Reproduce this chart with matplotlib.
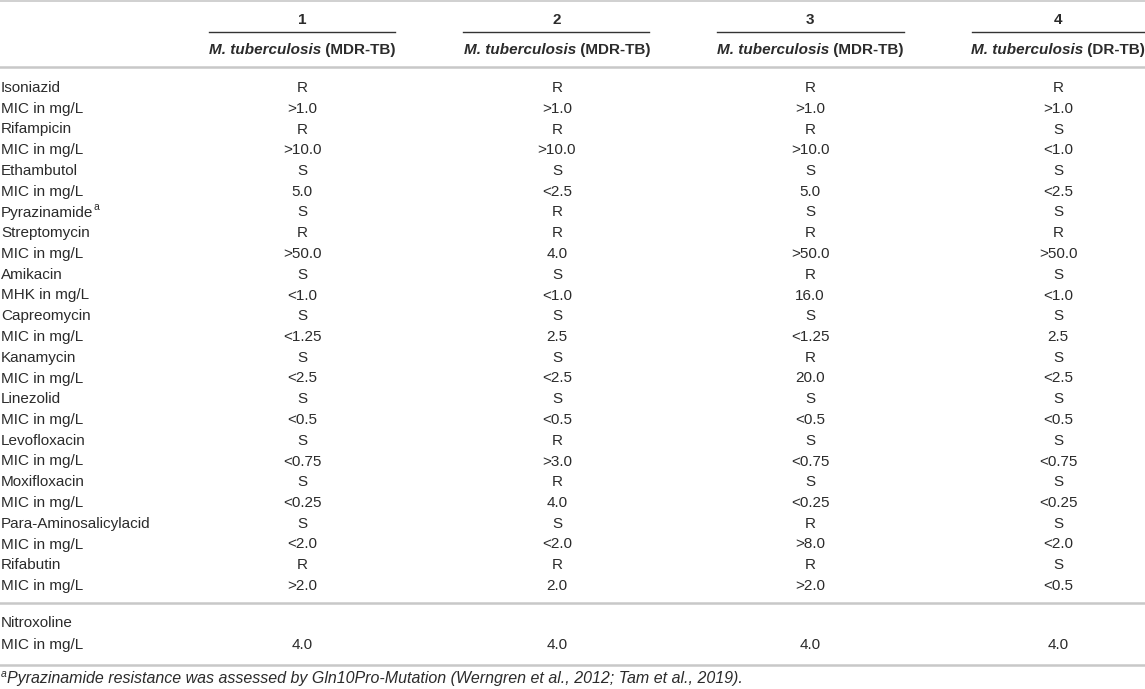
import matplotlib.pyplot as plt

plt.rcParams['font.family'] = ['Liberation Sans', 'DejaVu Sans']

col_numbers = ['1', '2', '3', '4']
col_species = ['M. tuberculosis', 'M. tuberculosis', 'M. tuberculosis', 'M. tuberculosis']
col_types = ['(MDR-TB)', '(MDR-TB)', '(MDR-TB)', '(DR-TB)']

row_labels = ['Isoniazid', 'MIC in mg/L', 'Rifampicin', 'MIC in mg/L', 'Ethambutol', 'MIC in mg/L',
              'Pyrazinamide', 'Streptomycin', 'MIC in mg/L', 'Amikacin', 'MHK in mg/L',
              'Capreomycin', 'MIC in mg/L', 'Kanamycin', 'MIC in mg/L', 'Linezolid', 'MIC in mg/L',
              'Levofloxacin', 'MIC in mg/L', 'Moxifloxacin', 'MIC in mg/L', 'Para-Aminosalicylacid',
              'MIC in mg/L', 'Rifabutin', 'MIC in mg/L']
row_marks = {'Pyrazinamide': 'a'}
isolate_1 = ['R', '>1.0', 'R', '>10.0', 'S', '5.0', 'S', 'R', '>50.0', 'S', '<1.0', 'S', '<1.25',
             'S', '<2.5', 'S', '<0.5', 'S', '<0.75', 'S', '<0.25', 'S', '<2.0', 'R', '>2.0']
isolate_2 = ['R', '>1.0', 'R', '>10.0', 'S', '<2.5', 'R', 'R', '4.0', 'S', '<1.0', 'S', '2.5',
             'S', '<2.5', 'S', '<0.5', 'R', '>3.0', 'R', '4.0', 'S', '<2.0', 'R', '2.0']
isolate_3 = ['R', '>1.0', 'R', '>10.0', 'S', '5.0', 'S', 'R', '>50.0', 'R', '16.0', 'S', '<1.25',
             'R', '20.0', 'S', '<0.5', 'S', '<0.75', 'S', '<0.25', 'R', '>8.0', 'R', '>2.0']
isolate_4 = ['R', '>1.0', 'S', '<1.0', 'S', '<2.5', 'S', 'R', '>50.0', 'S', '<1.0', 'S', '2.5',
             'S', '<2.5', 'S', '<0.5', 'S', '<0.75', 'S', '<0.25', 'S', '<2.0', 'S', '<0.5']

nitro_labels = ['Nitroxoline', 'MIC in mg/L']
nitro_values = ['', '4.0']

footnote_mark = 'a'
footnote = ('Pyrazinamide resistance was assessed by Gln10Pro-Mutation '
            '(Werngren et al., 2012; Tam et al., 2019).')

# layout in pixels
W, H = 1145, 689
col_x = [302, 557, 810, 1058]
col_span = [(209, 395), (463, 649), (717, 904), (972, 1145)]
row_y0, row_step = 88, 20.75
text_color = '#2b2b2b'
rule_color = '#c8c8c8'
fs = 11

fig = plt.figure(figsize=(W / 100, H / 100), dpi=100)
ax = fig.add_axes([0, 0, 1, 1])
ax.set_xlim(0, W)
ax.set_ylim(H, 0)
ax.axis('off')

# rules
ax.plot([0, W], [1, 1], color=rule_color, lw=1.2)
ax.plot([0, W], [67, 67], color=rule_color, lw=1.8)
ax.plot([0, W], [603, 603], color=rule_color, lw=1.8)
ax.plot([0, W], [665, 665], color=rule_color, lw=1.8)

fig.canvas.draw()
renderer = fig.canvas.get_renderer()


def width_of(t):
    return t.get_window_extent(renderer).width


# header
for x, (x0, x1), num, sp, typ in zip(col_x, col_span, col_numbers, col_species, col_types):
    ax.text(x, 20, num, ha='center', va='center', fontsize=fs, fontweight='bold', color=text_color)
    ax.plot([x0, x1], [32, 32], color='#333333', lw=1.0)
    t1 = ax.text(0, 50, sp, ha='left', va='center', fontsize=fs, fontweight='bold',
                 fontstyle='italic', color=text_color)
    t2 = ax.text(0, 50, ' ' + typ, ha='left', va='center', fontsize=fs, fontweight='bold',
                 color=text_color)
    w1, w2 = width_of(t1), width_of(t2)
    start = x - (w1 + w2) / 2
    t1.set_x(start)
    t2.set_x(start + w1)

# body
columns = [isolate_1, isolate_2, isolate_3, isolate_4]
for i, label in enumerate(row_labels):
    y = row_y0 + i * row_step
    t = ax.text(1, y, label, ha='left', va='center', fontsize=fs, color=text_color)
    if label in row_marks:
        ax.text(1.5 + width_of(t), y - 5, row_marks[label], ha='left', va='center',
                fontsize=7.5, color=text_color)
    for x, col in zip(col_x, columns):
        ax.text(x, y, col[i], ha='center', va='center', fontsize=fs, color=text_color)

for y, label, val in zip([623, 645], nitro_labels, nitro_values):
    ax.text(1, y, label, ha='left', va='center', fontsize=fs, color=text_color)
    for x in col_x:
        ax.text(x, y, val, ha='center', va='center', fontsize=fs, color=text_color)

# footnote
m = ax.text(1, 674, footnote_mark, ha='left', va='center', fontsize=7.5, fontstyle='italic',
            color=text_color)
ax.text(1.5 + width_of(m), 678, footnote, ha='left', va='center', fontsize=11.5,
        fontstyle='italic', color=text_color)

fig.savefig('out.png', dpi=100)
plt.close(fig)
